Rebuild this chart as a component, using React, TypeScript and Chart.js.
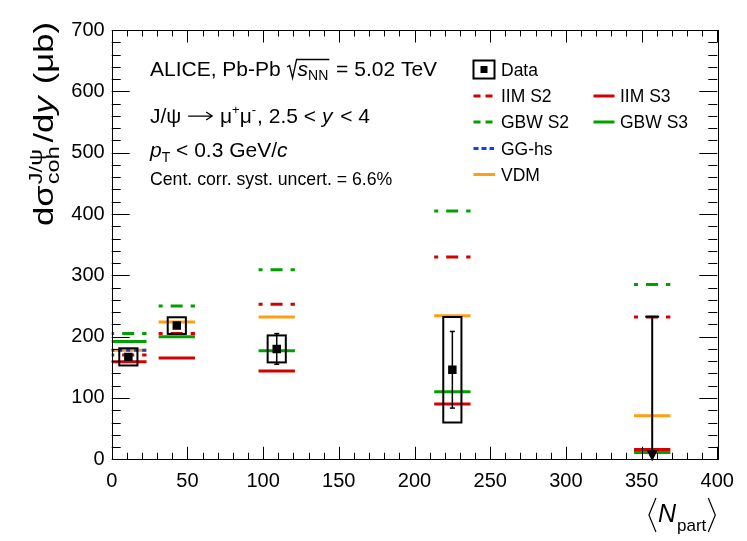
import React, { useEffect, useRef } from "react";
import { Chart, registerables } from "chart.js";

Chart.register(...registerables);

// ---------------- data ----------------
const npart = [11, 43, 109, 225, 357];
const modelHalfWidth = 12;
const boxHalfWidth = 6;

const dataValue = [167, 218, 180, 146];
const dataStat = [4, 4, 25, 62.5];
const dataSyst = [14, 13.6, 22, 86];
const upperLimitNpart = 357;
const upperLimitValue = 232.5;

const iimS2: (number | null)[] = [170, 205, 253, 330, 232];
const iimS3: (number | null)[] = [159, 165, 144, 90, 16];
const gbwS2: (number | null)[] = [205, 250, 309, 405, 285];
const gbwS3: (number | null)[] = [192, 200, 177, 110, 11];
const ggHs: (number | null)[] = [178, null, null, null, null];
const vdm: (number | null)[] = [178, 224, 232, 234, 71];

const xTickStep = 50;
const yTickStep = 100;

// ---------------- styles ----------------
const FONT = '"Liberation Sans", Arial, Helvetica, sans-serif';
const RED = "#d40000";
const GREEN = "#00a000";
const BLUE = "#1540e8";
const ORANGE = "#ff9f10";

type Model = { name: string; values: (number | null)[]; color: string; dash: number[]; offset: number; order: number };
const models: Model[] = [
  { name: "IIM S2", values: iimS2, color: RED, dash: [12, 8], offset: 8, order: 5 },
  { name: "IIM S3", values: iimS3, color: RED, dash: [], offset: 0, order: 6 },
  { name: "GBW S2", values: gbwS2, color: GREEN, dash: [12, 8], offset: 8, order: 3 },
  { name: "GBW S3", values: gbwS3, color: GREEN, dash: [], offset: 0, order: 4 },
  { name: "VDM", values: vdm, color: ORANGE, dash: [], offset: 0, order: 2 },
  { name: "GG-hs", values: ggHs, color: BLUE, dash: [4, 4], offset: 0, order: 1 },
];

type Seg = { t?: string; s: number; it?: boolean; dy?: number; stack?: Seg[]; gap?: number; arrow?: number };

function setFont(ctx: CanvasRenderingContext2D, g: Seg) {
  ctx.font = `${g.it ? "italic " : ""}${g.s}px ${FONT}`;
}
function segWidth(ctx: CanvasRenderingContext2D, g: Seg): number {
  if (g.arrow) return g.arrow + (g.gap || 0);
  if (g.stack) return Math.max(...g.stack.map((h) => segWidth(ctx, h))) + (g.gap || 0);
  setFont(ctx, g);
  return ctx.measureText(g.t || "").width + (g.gap || 0);
}
function segsWidth(ctx: CanvasRenderingContext2D, segs: Seg[]) {
  return segs.reduce((a, g) => a + segWidth(ctx, g), 0);
}
function drawSegs(ctx: CanvasRenderingContext2D, x: number, y: number, segs: Seg[]) {
  let cx = x;
  for (const g of segs) {
    if (g.arrow) {
      const ay = y - g.s * 0.33;
      ctx.save();
      ctx.lineWidth = 1.3;
      ctx.beginPath();
      ctx.moveTo(cx, ay);
      ctx.lineTo(cx + g.arrow, ay);
      ctx.moveTo(cx + g.arrow - 6, ay - 4);
      ctx.lineTo(cx + g.arrow, ay);
      ctx.lineTo(cx + g.arrow - 6, ay + 4);
      ctx.stroke();
      ctx.restore();
    } else if (g.stack) {
      for (const h of g.stack) {
        setFont(ctx, h);
        ctx.fillText(h.t || "", cx, y + (h.dy || 0));
      }
    } else {
      setFont(ctx, g);
      ctx.fillText(g.t || "", cx, y + (g.dy || 0));
    }
    cx += segWidth(ctx, g);
  }
  return cx;
}

function line(ctx: CanvasRenderingContext2D, x1: number, y1: number, x2: number, y2: number) {
  ctx.beginPath();
  ctx.moveTo(x1, y1);
  ctx.lineTo(x2, y2);
  ctx.stroke();
}

const overlay = {
  id: "overlay",
  afterDatasetsDraw(chart: any) {
    const ctx: CanvasRenderingContext2D = chart.ctx;
    const a = chart.chartArea;
    const xs = chart.scales.x;
    const ys = chart.scales.y;
    ctx.save();
    ctx.setLineDash([]);
    ctx.strokeStyle = "#000";
    ctx.fillStyle = "#000";

    // systematic boxes and stat error bars
    dataValue.forEach((v, i) => {
      const c = npart[i];
      const xl = xs.getPixelForValue(c - boxHalfWidth);
      const xr = xs.getPixelForValue(c + boxHalfWidth);
      const yt = ys.getPixelForValue(v + dataSyst[i]);
      const yb = ys.getPixelForValue(v - dataSyst[i]);
      ctx.lineWidth = 2;
      ctx.strokeRect(xl, yt, xr - xl, yb - yt);
      const xc = xs.getPixelForValue(c);
      const et = ys.getPixelForValue(v + dataStat[i]);
      const eb = ys.getPixelForValue(v - dataStat[i]);
      ctx.lineWidth = 1.5;
      line(ctx, xc, et, xc, eb);
      line(ctx, xc - 2.5, et, xc + 2.5, et);
      line(ctx, xc - 2.5, eb, xc + 2.5, eb);
    });

    // upper limit arrow
    {
      const xc = xs.getPixelForValue(upperLimitNpart);
      const yt = ys.getPixelForValue(upperLimitValue);
      const y0 = ys.getPixelForValue(0);
      ctx.lineWidth = 2;
      line(ctx, xc, yt, xc, y0 - 6);
      line(ctx, xc - 7, yt, xc + 7, yt);
      ctx.beginPath();
      ctx.moveTo(xc - 5.5, y0 - 9);
      ctx.lineTo(xc + 5.5, y0 - 9);
      ctx.lineTo(xc, y0 + 2);
      ctx.closePath();
      ctx.fill();
    }

    // frame
    ctx.lineWidth = 1;
    ctx.strokeRect(Math.round(a.left) + 0.5, Math.round(a.top) + 0.5, Math.round(a.right - a.left), Math.round(a.bottom - a.top));

    // ticks inside the frame
    for (let v = 0; v <= 400; v += 10) {
      const px = Math.round(xs.getPixelForValue(v)) + 0.5;
      const len = v % 50 === 0 ? 12.5 : 6.5;
      line(ctx, px, a.bottom, px, a.bottom - len);
      line(ctx, px, a.top, px, a.top + len);
    }
    for (let v = 0; v <= 700; v += 20) {
      const py = Math.round(ys.getPixelForValue(v)) + 0.5;
      const len = v % 100 === 0 ? 18 : 9;
      line(ctx, a.left, py, a.left + len, py);
      line(ctx, a.right, py, a.right - len, py);
    }
    ctx.restore();
  },
  afterDraw(chart: any) {
    const ctx: CanvasRenderingContext2D = chart.ctx;
    const a = chart.chartArea;
    ctx.save();
    ctx.fillStyle = "#000";
    ctx.strokeStyle = "#000";
    ctx.textBaseline = "alphabetic";
    ctx.textAlign = "left";

    // ---- annotation text ----
    const F = 21;
    const SF = 14;
    let x = drawSegs(ctx, 150, 76, [{ t: "ALICE, Pb-Pb ", s: F }]);
    // sqrt sign
    ctx.lineWidth = 1.3;
    ctx.beginPath();
    ctx.moveTo(x + 0.5, 67);
    ctx.lineTo(x + 3, 65.5);
    ctx.lineTo(x + 6, 78);
    ctx.lineTo(x + 10, 59.5);
    const sx = x + 11;
    const ex = drawSegs(ctx, sx, 76, [
      { t: "s", s: F, it: true },
      { t: "NN", s: SF, dy: 4 },
    ]);
    ctx.lineTo(ex + 1, 59.5);
    ctx.stroke();
    drawSegs(ctx, ex + 2, 76, [{ t: " = 5.02 TeV", s: F }]);

    drawSegs(ctx, 150, 123, [
      { t: "J/\u03c8 ", s: F, gap: 1 },
      { s: F, arrow: 24, gap: 2 },
      { t: " \u03bc", s: F },
      { t: "+", s: 13, dy: -9 },
      { t: "\u03bc", s: F },
      { t: "-", s: 13, dy: -9, gap: 1 },
      { t: ", 2.5 < ", s: F },
      { t: "y", s: F, it: true, gap: 2 },
      { t: " < 4", s: F },
    ]);
    drawSegs(ctx, 150, 157, [
      { t: "p", s: F, it: true },
      { t: "T", s: SF, dy: 5 },
      { t: " < 0.3 GeV/", s: F },
      { t: "c", s: F, it: true },
    ]);
    drawSegs(ctx, 150, 185, [{ t: "Cent. corr. syst. uncert. = 6.6%", s: 17.7 }]);

    // ---- legend ----
    const rows = [69.5, 96, 122, 148.5, 174.5];
    const lfs = 17.5;
    const txt = (t: string, tx: number, cy: number) => {
      ctx.font = `${lfs}px ${FONT}`;
      ctx.fillText(t, tx, cy + 6.3);
    };
    ctx.setLineDash([]);
    ctx.lineWidth = 2;
    ctx.strokeRect(473.5, 60.5, 21, 18);
    ctx.fillRect(480.5, 66, 7, 7);
    txt("Data", 501, rows[0]);
    const legLine = (x1: number, x2: number, cy: number, color: string, dash: number[]) => {
      ctx.save();
      ctx.strokeStyle = color;
      ctx.lineWidth = 3;
      ctx.setLineDash(dash);
      line(ctx, x1, cy, x2, cy);
      ctx.restore();
    };
    legLine(473.5, 493, rows[1], RED, [7, 5]);
    txt("IIM S2", 501, rows[1]);
    legLine(473.5, 493, rows[2], GREEN, [7, 5]);
    txt("GBW S2", 501, rows[2]);
    legLine(473.5, 494, rows[3], BLUE, [5, 3]);
    txt("GG-hs", 501, rows[3]);
    legLine(473.5, 495, rows[4], ORANGE, []);
    txt("VDM", 501, rows[4]);
    legLine(593.5, 614.5, rows[1], RED, []);
    txt("IIM S3", 620, rows[1]);
    legLine(593.5, 614.5, rows[2], GREEN, []);
    txt("GBW S3", 620, rows[2]);

    // ---- y axis title (rotated) ----
    const YF = 28;
    const YS = 19;
    const ySegs: Seg[] = [
      { t: "d\u03c3", s: YF, gap: 1 },
      {
        s: YS,
        gap: 3,
        stack: [
          { t: "J/\u03c8", s: YS, dy: -11 },
          { t: "coh", s: YS, dy: 6 },
        ],
      },
      { t: "/d", s: YF },
      { t: "y", s: YF, it: true, gap: 2 },
      { t: " (\u03bcb)", s: YF },
    ];
    const tw = segsWidth(ctx, ySegs);
    const targetLen = 204;
    const stretch = targetLen / tw;
    ctx.save();
    ctx.translate(53, 22 + targetLen);
    ctx.rotate(-Math.PI / 2);
    ctx.scale(stretch, 1);
    drawSegs(ctx, 0, 0, ySegs);
    ctx.restore();

    // ---- x axis title ----
    const xSegs: Seg[] = [
      { t: "N", s: 25, it: true, gap: 1 },
      { t: "part", s: 17, dy: 9 },
    ];
    const xw = segsWidth(ctx, xSegs);
    const rEnd = a.right - 2;
    const rbW = 7;
    const startX = rEnd - rbW - 2 - xw;
    drawSegs(ctx, startX, 522, xSegs);
    ctx.lineWidth = 1.2;
    ctx.beginPath();
    ctx.moveTo(rEnd - rbW, 498);
    ctx.lineTo(rEnd, 515);
    ctx.lineTo(rEnd - rbW, 532);
    ctx.stroke();
    const lb = startX - 2;
    ctx.beginPath();
    ctx.moveTo(lb, 498);
    ctx.lineTo(lb - rbW, 515);
    ctx.lineTo(lb, 532);
    ctx.stroke();

    ctx.restore();
  },
};

export default function App() {
  const ref = useRef<HTMLCanvasElement | null>(null);
  useEffect(() => {
    if (!ref.current) return;
    const datasets: any[] = [];
    models.forEach((m) => {
      m.values.forEach((v, i) => {
        if (v === null) return;
        datasets.push({
          type: "line",
          label: m.name,
          data: [
            { x: npart[i] - modelHalfWidth, y: v },
            { x: npart[i] + modelHalfWidth, y: v },
          ],
          borderColor: m.color,
          borderWidth: 3,
          borderDash: m.dash,
          borderDashOffset: m.offset,
          borderCapStyle: "butt",
          pointRadius: 0,
          fill: false,
          order: m.order,
        });
      });
    });
    datasets.push({
      type: "scatter",
      label: "Data",
      data: dataValue.map((v, i) => ({ x: npart[i], y: v })),
      pointStyle: "rect",
      pointRadius: 6,
      pointBackgroundColor: "#000",
      pointBorderWidth: 0,
      showLine: false,
      order: 0,
    });

    const tickFont = { family: FONT, size: 20 };
    const chart = new Chart(ref.current, {
      type: "line",
      data: { datasets },
      options: {
        animation: false,
        responsive: false,
        events: [],
        layout: { padding: { top: 30, right: 29.7, left: 0, bottom: 0 } },
        plugins: { legend: { display: false }, tooltip: { enabled: false } },
        scales: {
          x: {
            type: "linear",
            min: 0,
            max: 400,
            ticks: { stepSize: xTickStep, font: tickFont, color: "#000", padding: 10, maxRotation: 0, autoSkip: false },
            grid: { display: false, drawTicks: false },
            border: { display: false },
            afterFit: (s: any) => {
              s.height = 81.7;
            },
          },
          y: {
            type: "linear",
            min: 0,
            max: 700,
            ticks: { stepSize: yTickStep, font: tickFont, color: "#000", padding: 7 },
            grid: { display: false, drawTicks: false },
            border: { display: false },
            afterFit: (s: any) => {
              s.width = 111.7;
            },
          },
        },
      } as any,
      plugins: [overlay],
    });
    return () => chart.destroy();
  }, []);

  return (
    <div style={{ position: "fixed", left: 0, top: 0, width: 747, height: 541, background: "#fff" }}>
      <canvas ref={ref} width={747} height={541} style={{ display: "block" }} />
    </div>
  );
}
